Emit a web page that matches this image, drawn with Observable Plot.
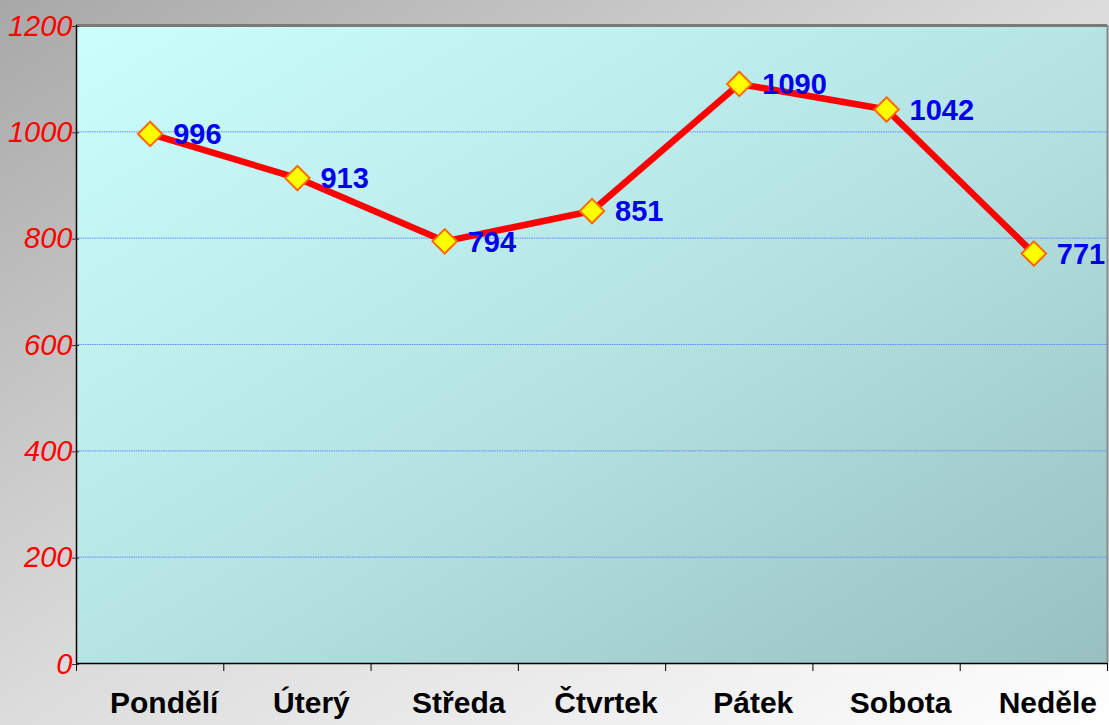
<!DOCTYPE html>
<html>
<head>
<meta charset="utf-8">
<script src="https://cdn.jsdelivr.net/npm/d3@7"></script>
<script src="https://cdn.jsdelivr.net/npm/@observablehq/plot@0.6"></script>
<style>
  html, body { margin: 0; padding: 0; }
  body {
    width: 1109px; height: 725px; overflow: hidden;
    background: linear-gradient(to bottom right, #a8a8a8 0%, #dcdcdc 50%, #ffffff 100%);
    font-family: "Liberation Sans", Arial, sans-serif;
  }
  #chart svg { display: block; }
</style>
</head>
<body>
<div id="chart"></div>
<script>
const days = ["Pondělí", "Úterý", "Středa", "Čtvrtek", "Pátek", "Sobota", "Neděle"];
const values = [996, 913, 794, 851, 1090, 1042, 771];
const yTicks = [0, 200, 400, 600, 800, 1000, 1200];
const gridTicks = [200, 400, 600, 800, 1000];

const data = days.map((d, i) => ({i, day: d, value: values[i]}));
const centers = days.map((d, i) => i);
const bounds = d3.range(days.length + 1).map(k => k - 0.5);
const yMax = yTicks[yTicks.length - 1];

function defs() {
  const ns = "http://www.w3.org/2000/svg";
  const g = document.createElementNS(ns, "defs");
  g.innerHTML = `<linearGradient id="plotbg" x1="0" y1="0" x2="1" y2="1">
      <stop offset="0%" stop-color="#ccfefe"/>
      <stop offset="50%" stop-color="#b6e4e4"/>
      <stop offset="100%" stop-color="#98c0c0"/>
    </linearGradient>`;
  return g;
}

const chart = Plot.plot({
  width: 1109,
  height: 725,
  marginLeft: 76,
  marginRight: 2,
  marginTop: 25,
  marginBottom: 62,
  style: {background: "transparent", fontFamily: "'Liberation Sans', Arial, sans-serif", overflow: "visible"},
  x: {type: "linear", domain: [bounds[0], bounds[bounds.length - 1]]},
  y: {domain: [0, yMax]},
  marks: [
    defs,
    Plot.frame({fill: "url(#plotbg)", stroke: null}),
    Plot.gridY(gridTicks, {stroke: "#5f8cff", strokeOpacity: 1, strokeWidth: 1, strokeDasharray: "1.5,0.8"}),
    Plot.ruleY([yMax], {stroke: "#7a7a7a", strokeWidth: 3}),
    Plot.ruleX([bounds[bounds.length - 1]], {stroke: "#8a8a8a", strokeWidth: 2}),
    Plot.ruleX([bounds[0]], {stroke: "#000", strokeWidth: 1.5}),
    Plot.ruleY([0], {stroke: "#000", strokeWidth: 1.5}),
    Plot.axisY(yTicks, {
      tickSize: 7, tickPadding: 0, dx: 3, dy: 1, stroke: "#333", fill: "#ff0000",
      fontSize: 29, fontStyle: "italic", tickFormat: d => String(d), label: null
    }),
    Plot.axisX(bounds, {tickSize: 8, stroke: "#000", tickFormat: () => "", label: null}),
    Plot.axisX(centers, {
      tickSize: 0, tickPadding: 28, dx: 14, fill: "#000", fontSize: 30, fontWeight: "bold",
      tickFormat: i => days[i], label: null
    }),
    Plot.line(data, {x: "i", y: "value", stroke: "#ff0000", strokeWidth: 6.5}),
    Plot.dot(data, {x: "i", y: "value", symbol: "diamond2", r: 11, fill: "#ffff00", stroke: "#ff6a00", strokeWidth: 2}),
    Plot.text(data, {
      x: "i", y: "value", text: d => String(d.value), dx: 23, dy: 1,
      textAnchor: "start", lineAnchor: "middle", fill: "#0000ee",
      fontSize: 29, fontWeight: "bold"
    })
  ]
});
document.getElementById("chart").appendChild(chart);
</script>
</body>
</html>
